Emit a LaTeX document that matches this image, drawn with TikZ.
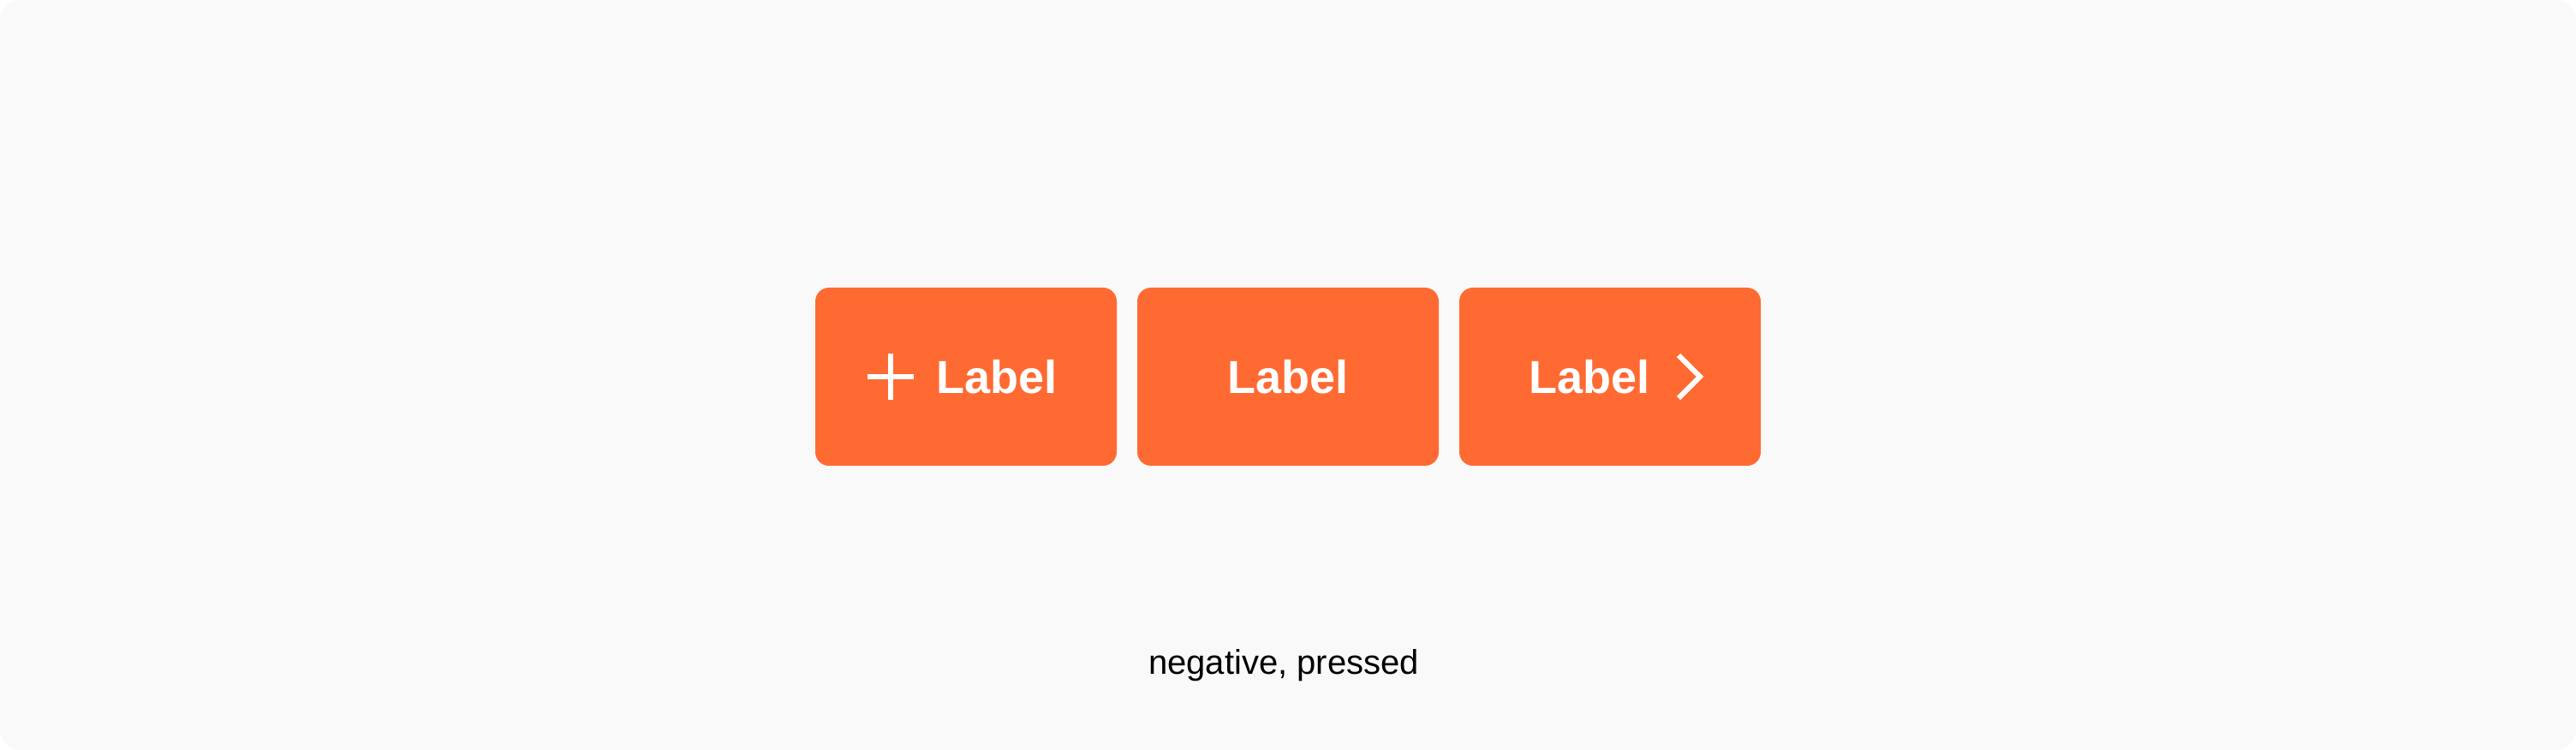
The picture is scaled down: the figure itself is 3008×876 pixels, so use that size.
\documentclass[tikz,border=0pt]{standalone}
\usepackage{fontspec}
\setmainfont{Liberation Sans}
\definecolor{pagebg}{HTML}{F9F9F9}
\definecolor{btnorange}{HTML}{FF6A33}
\tikzset{
  btn/.style={fill=btnorange, rounded corners=8pt, minimum width=176pt, minimum height=104pt, inner sep=0pt, draw=none},
  btnlabel/.style={text=white, font=\fontsize{27}{32}\selectfont\bfseries, inner sep=0pt, anchor=base},
  iconline/.style={draw=white, line width=3pt},
  caption/.style={text=black, font=\fontsize{20}{24}\selectfont, inner sep=0pt, anchor=base}
}
\begin{document}
\begin{tikzpicture}[x=0.5pt, y=-0.5pt]
\useasboundingbox (0,0) rectangle (3008,876);
\fill[white] (0,0) rectangle (3008,876);
\fill[pagebg, rounded corners=12pt] (0,0) rectangle (3008,876);
% buttons
\node[btn] (b1) at (1128,440) {};
\node[btn] (b2) at (1504,440) {};
\node[btn] (b3) at (1880,440) {};
% labels
\node[btnlabel] (l1) at (1164,460) {Label};
\node[btnlabel] (l2) at (1504,460) {Label};
\node[btnlabel] (l3) at (1856,460) {Label};
% plus icon
\coordinate (pl) at (1013,440);
\coordinate (pr) at (1067,440);
\coordinate (pt) at (1040,413);
\coordinate (pb) at (1040,467);
\draw[iconline] (pl) -- (pr);
\draw[iconline] (pt) -- (pb);
% chevron icon
\coordinate (c1) at (1960,415);
\coordinate (c2) at (1985,440);
\coordinate (c3) at (1960,465);
\draw[iconline, line join=miter] (c1) -- (c2) -- (c3);
% caption
\node[caption] (cap) at (1499,787) {negative, pressed};
\end{tikzpicture}
\end{document}
